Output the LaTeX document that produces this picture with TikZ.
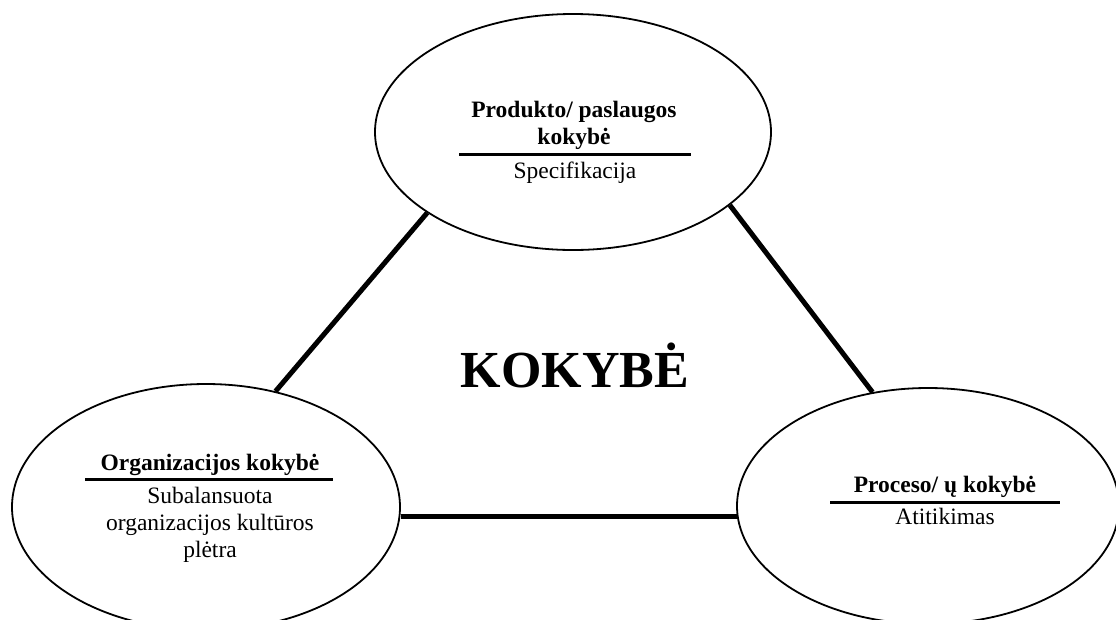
\documentclass[tikz,border=0pt]{standalone}
\usepackage{fontspec}
\setmainfont{Liberation Serif}
\usetikzlibrary{shapes.geometric}
\begin{document}
\begin{tikzpicture}[x=1pt,y=-1pt,
  oval/.style={ellipse, draw, line width=1.8pt, inner sep=0pt},
  link/.style={line width=5pt},
  rulebar/.style={line width=3pt},
  head/.style={anchor=base, font=\fontsize{23.5}{27}\selectfont\bfseries},
  body/.style={anchor=base, font=\fontsize{23.5}{27}\selectfont}]
\useasboundingbox (0,0) rectangle (1116,619);
\clip (0,0) rectangle (1116,619);
\fill[white] (0,0) rectangle (1116,619);

% the three ellipses
\node[oval, minimum width=396pt, minimum height=236pt] (prod) at (573,132) {};
\node[oval, minimum width=388pt, minimum height=246pt] (org) at (206,507) {};
\node[oval, minimum width=382pt, minimum height=236pt] (proc) at (928,506) {};

% connectors between the ellipses
\draw[link] (prod.209) -- (org.59);
\draw[link] (prod.335) -- (proc.116);
\coordinate (procW) at (proc.183);
\draw[link] (org.east |- procW) -- (procW);

% centre title
\node[anchor=base, font=\fontsize{52}{60}\selectfont\bfseries] (title) at (575,387) {KOKYBĖ};

% product / service quality
\node[head] (prodA) at (574,117) {Produkto/ paslaugos};
\node[head] (prodB) at (574,144) {kokybė};
\coordinate (prodL) at (459,154);
\coordinate (prodR) at (691,154);
\draw[rulebar] (prodL) -- (prodR);
\node[body] (prodC) at (575,178) {Specifikacija};

% organisation quality
\node[head] (orgA) at (210,470) {Organizacijos kokybė};
\coordinate (orgL) at (85,479);
\coordinate (orgR) at (333,479);
\draw[rulebar] (orgL) -- (orgR);
\node[body] (orgB) at (210,503) {Subalansuota};
\node[body] (orgC) at (210,530) {organizacijos kultūros};
\node[body] (orgD) at (210,557) {plėtra};

% process quality
\node[head] (procA) at (945,492) {Proceso/ ų kokybė};
\coordinate (procL) at (830,502);
\coordinate (procR) at (1060,502);
\draw[rulebar] (procL) -- (procR);
\node[body] (procB) at (945,524) {Atitikimas};
\end{tikzpicture}
\end{document}
